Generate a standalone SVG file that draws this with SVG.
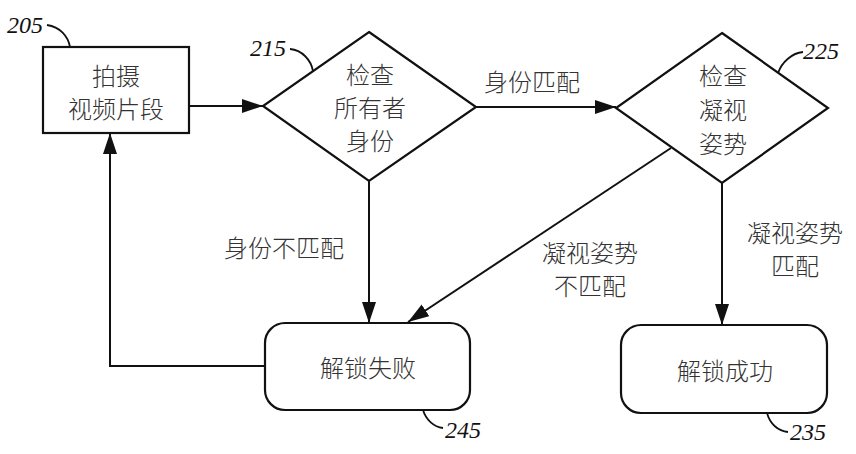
<svg xmlns="http://www.w3.org/2000/svg" width="856" height="454" viewBox="0 0 856 454">
<style>
.shape{fill:#fff;stroke:#111;stroke-width:2.2}
.conn{fill:none;stroke:#111;stroke-width:2}
.lead{fill:none;stroke:#111;stroke-width:1.8}
.t{font-family:"Noto Sans CJK SC","Noto Sans",sans-serif;font-size:24px;fill:#333;text-anchor:middle;font-weight:300}
.n{font-family:"Liberation Serif",serif;font-style:italic;font-size:24px;fill:#111}
</style>
<defs>
<marker id="ah" markerUnits="userSpaceOnUse" markerWidth="22" markerHeight="16" refX="21" refY="7" orient="auto">
<path d="M0,0 L21,7 L0,14 z" fill="#111"/>
</marker>
</defs>
<rect width="856" height="454" fill="#fff"/>
<g id="connectors">
<line class="conn" x1="189" y1="106" x2="263" y2="106" marker-end="url(#ah)"/>
<line class="conn" x1="476" y1="107" x2="616" y2="107" marker-end="url(#ah)"/>
<line class="conn" x1="369" y1="181" x2="369" y2="323" marker-end="url(#ah)"/>
<line class="conn" x1="671" y1="148" x2="408" y2="322" marker-end="url(#ah)"/>
<line class="conn" x1="722" y1="183" x2="722" y2="325" marker-end="url(#ah)"/>
<polyline class="conn" points="265,366 110,366 110,133" marker-end="url(#ah)"/>
<text class="t" x="532" y="91">身份匹配</text>
<text class="t" x="284" y="257">身份不匹配</text>
<text class="t" x="590" y="262">凝视姿势</text>
<text class="t" x="590" y="295">不匹配</text>
<text class="t" x="795" y="242">凝视姿势</text>
<text class="t" x="795" y="275">匹配</text>
</g>
<g id="n205">
<rect class="shape" x="43" y="47" width="146" height="86"/>
<text class="t" x="116" y="85">拍摄</text>
<text class="t" x="116" y="118">视频片段</text>
<path class="lead" d="M47,25 C60,27 68,36 70,47"/>
<text class="n" x="7" y="33">205</text>
</g>
<g id="n215">
<polygon class="shape" points="369,32 476,107 369,181 263,106"/>
<text class="t" x="370" y="84">检查</text>
<text class="t" x="370" y="117">所有者</text>
<text class="t" x="370" y="150">身份</text>
<path class="lead" d="M290,49 C302,50 311,60 313,71"/>
<text class="n" x="250" y="56">215</text>
</g>
<g id="n225">
<polygon class="shape" points="722,33 828,108 722,183 616,108"/>
<text class="t" x="723" y="85">检查</text>
<text class="t" x="723" y="119">凝视</text>
<text class="t" x="723" y="153">姿势</text>
<path class="lead" d="M778,73 C782,62 792,53 803,52"/>
<text class="n" x="803" y="59">225</text>
</g>
<g id="n245">
<rect class="shape" x="265" y="323" width="205" height="87" rx="20" ry="20"/>
<text class="t" x="368" y="377">解锁失败</text>
<path class="lead" d="M423,410 C426,420 434,427 443,428"/>
<text class="n" x="445" y="438">245</text>
</g>
<g id="n235">
<rect class="shape" x="621" y="325" width="206" height="88" rx="20" ry="20"/>
<text class="t" x="725" y="380">解锁成功</text>
<path class="lead" d="M767,413 C770,424 778,431 788,432"/>
<text class="n" x="790" y="440">235</text>
</g>
</svg>
